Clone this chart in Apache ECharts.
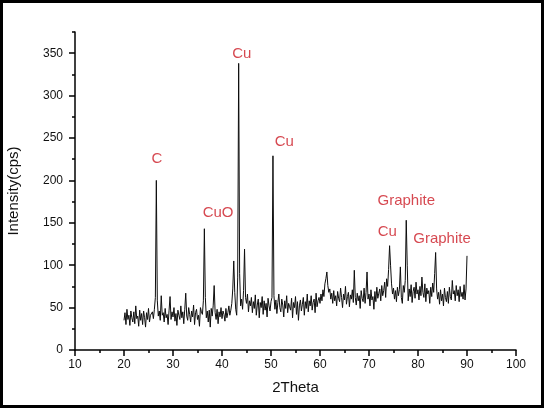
<!DOCTYPE html>
<html>
<head>
<meta charset="utf-8">
<script src="https://cdn.jsdelivr.net/npm/echarts@6/dist/echarts.min.js"></script>
<style>
  html, body { margin: 0; padding: 0; background: #fff; }
  #chart { width: 544px; height: 408px; }
</style>
</head>
<body>
<div id="chart"></div>
<script>
// scan: 2Theta from 20 to 90, step 0.2
const scanStart = 20
const scanStep = 0.2

// intensity (cps), 10 points per 2 degrees
const intensity = [
    35, 44, 30, 48, 36, 41, 29, 46, 38, 33,   // 20
    45, 31, 52, 37, 40, 28, 47, 35, 43, 30,   // 22
    46, 38, 27, 44, 36, 49, 33, 41, 39, 45,   // 24
    37, 48, 62, 200, 58, 40, 46, 35, 64, 41,  // 26
    44, 33, 49, 38, 42, 30, 47, 63, 36, 45,   // 28
    39, 50, 34, 43, 29, 47, 41, 36, 52, 38,   // 30
    45, 31, 48, 67, 40, 35, 50, 42, 33, 46,   // 32
    39, 53, 30, 44, 48, 36, 41, 28, 50, 45,   // 34
    42, 58, 143, 62, 38, 46, 33, 47, 27, 49,  // 36
    40, 52, 76, 44, 36, 48, 31, 45, 39, 50,   // 38
    37, 46, 42, 34, 49, 38, 44, 52, 41, 47,   // 40
    55, 72, 105, 68, 48, 41, 85, 338, 90, 52, // 42
    60, 48, 70, 119, 62, 55, 66, 45, 58, 52,  // 44
    62, 44, 57, 49, 65, 41, 53, 60, 38, 56,   // 46
    50, 63, 42, 58, 47, 55, 39, 61, 52, 46,   // 48
    57, 62, 229, 64, 48, 59, 43, 56, 66, 50,  // 50
    45, 60, 53, 39, 58, 49, 64, 44, 55, 51,   // 52
    47, 61, 38, 56, 50, 63, 42, 57, 35, 52,   // 54
    59, 46, 54, 62, 41, 57, 49, 66, 45, 58,   // 56
    52, 64, 47, 56, 60, 44, 67, 51, 58, 62,   // 58
    55, 66, 58, 71, 63, 78, 84, 92, 76, 68,   // 60
    72, 60, 67, 55, 70, 58, 64, 52, 69, 61,   // 62
    57, 73, 62, 50, 66, 59, 75, 54, 63, 68,   // 64
    51, 65, 60, 71, 56, 94, 62, 53, 67, 58,   // 66
    64, 49, 70, 61, 57, 73, 55, 68, 92, 60,   // 68
    66, 52, 71, 59, 63, 48, 69, 57, 74, 61,   // 70
    67, 72, 58, 76, 64, 70, 80, 62, 84, 75,   // 72
    95, 123, 100, 78, 66, 73, 60, 70, 57, 74, // 74
    64, 71, 98, 62, 55, 76, 68, 82, 153, 100, // 76
    58, 72, 63, 77, 56, 69, 74, 61, 80, 66,   // 78
    71, 59, 75, 64, 86, 68, 62, 78, 57, 73,   // 80
    66, 70, 55, 74, 63, 79, 68, 90, 115, 72,  // 82
    60, 68, 54, 71, 58, 66, 52, 73, 62, 57,   // 84
    69, 55, 74, 63, 59, 82, 66, 70, 58, 76,   // 86
    64, 71, 57, 75, 63, 68, 60, 77, 59, 72,   // 88
    111                                       // 90
]

// phase labels and where they sit (data units)
const peakNames = ['C', 'CuO', 'Cu', 'Cu', 'Graphite', 'Cu', 'Graphite']
const peakLabelX = [26.7, 39.2, 44.05, 52.7, 77.6, 73.75, 84.9]
const peakLabelY = [225, 162, 349, 246, 176, 139, 131]

const yMajorTicks = [0, 50, 100, 150, 200, 250, 300, 350]

const myChart = echarts.init(document.getElementById('chart'))

const lineData = intensity.map((v, i) => [+(scanStart + i * scanStep).toFixed(1), v])
const labelData = peakNames.map((name, i) => ({ name: name, value: [peakLabelX[i], peakLabelY[i]] }))

const axisFont = { fontFamily: 'Liberation Sans, Arial, sans-serif', color: '#111' }

const option = {
    animation: false,
    backgroundColor: '#fff',
    grid: { left: 75, right: 28, top: 32, bottom: 58, outerBoundsMode: 'none' },
    xAxis: {
        type: 'value',
        min: 10,
        max: 100,
        interval: 10,
        name: '2Theta',
        nameLocation: 'middle',
        nameGap: 30,
        nameTextStyle: { ...axisFont, fontSize: 15 },
        axisLine: { lineStyle: { color: '#000', width: 1.5 } },
        axisTick: { inside: false, length: 6, lineStyle: { color: '#000', width: 1.5 } },
        minorTick: { show: true, splitNumber: 2, length: 3, lineStyle: { color: '#000', width: 1.5 } },
        axisLabel: { ...axisFont, fontSize: 12, margin: 9 },
        splitLine: { show: false }
    },
    yAxis: [
        {
            type: 'value',
            min: 0,
            max: 375,
            interval: 25,
            name: 'Intensity(cps)',
            nameLocation: 'middle',
            nameGap: 54,
            nameTextStyle: { ...axisFont, fontSize: 15 },
            axisLine: { show: true, lineStyle: { color: '#000', width: 1.5 } },
            axisTick: { inside: false, length: 3, lineStyle: { color: '#000', width: 1.5 } },
            axisLabel: { ...axisFont, fontSize: 12, margin: 12, customValues: yMajorTicks },
            splitLine: { show: false }
        },
        {
            type: 'value',
            min: 0,
            max: 375,
            position: 'left',
            axisLine: { show: false },
            axisTick: { show: true, inside: false, length: 6, customValues: yMajorTicks, lineStyle: { color: '#000', width: 1.5 } },
            axisLabel: { show: false },
            splitLine: { show: false }
        }
    ],
    series: [
        {
            name: 'XRD',
            type: 'line',
            data: lineData,
            showSymbol: false,
            sampling: null,
            lineStyle: { color: '#0d0d0d', width: 1 },
            silent: true
        },
        {
            name: 'Phases',
            type: 'scatter',
            data: labelData,
            symbolSize: 0,
            label: {
                show: true,
                position: 'inside',
                formatter: '{b}',
                fontFamily: 'Liberation Sans, Arial, sans-serif',
                fontSize: 15,
                color: '#cc1a24'
            },
            silent: true
        }
    ],
    graphic: [
        {
            type: 'rect',
            shape: { x: 1.5, y: 1.5, width: 541, height: 405 },
            style: { fill: 'none', stroke: '#000', lineWidth: 3 },
            silent: true
        }
    ]
}
myChart.setOption(option)
</script>
</body>
</html>
